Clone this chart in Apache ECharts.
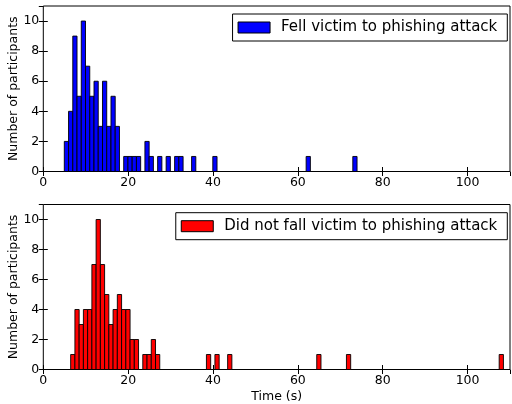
<!DOCTYPE html>
<html><head><meta charset="utf-8">
<script src="https://cdn.jsdelivr.net/npm/echarts@6/dist/echarts.min.js"></script>
<style>html,body{margin:0;padding:0;background:#fff}#c{width:512px;height:404px}</style>
</head><body><div id="c"></div>
<script>
const binWidth = 1.0;
const fellName = 'Fell victim to phishing attack';
const fellLeft = [4.95,5.95,6.95,7.95,8.95,9.95,10.95,11.95,12.95,13.95,14.95,15.95,16.95,18.95,19.95,20.95,21.95,23.95,24.95,26.95,28.95,30.95,31.95,34.95,39.95,61.95,72.95];
const fellCount = [2,4,9,5,10,7,5,6,3,6,3,5,3,1,1,1,1,2,1,1,1,1,1,1,1,1,1];
const notName = 'Did not fall victim to phishing attack';
const notLeft = [6.45,7.45,8.45,9.45,10.45,11.45,12.45,13.45,14.45,15.45,16.45,17.45,18.45,19.45,20.45,21.45,23.45,24.45,25.45,26.45,38.45,40.45,43.45,64.45,71.45,107.45];
const notCount = [1,4,3,4,4,7,10,7,5,3,4,5,4,4,2,2,1,1,2,1,1,1,1,1,1,1];
const xTicks = [0,20,40,60,80,100];
const yTicks = [0,2,4,6,8,10];

const FONT = 'DejaVu Sans';
const chart = echarts.init(document.getElementById('c'), null, {renderer:'canvas'});

function makeRender(color){
  return function(params, api){
    const x0 = api.value(0), h = api.value(1);
    const p0 = api.coord([x0, h]);
    const p1 = api.coord([x0 + binWidth, 0]);
    return {type:'rect', shape:{x:p0[0], y:p0[1], width:p1[0]-p0[0], height:p1[1]-p0[1]},
      style:{fill:color, stroke:'#000', lineWidth:0.9}};
  };
}
function xAx(grid, pos, labels, name){
  return {gridIndex:grid, type:'value', position:pos, min:0, max:110, interval:20,
    axisLine:{show:false}, splitLine:{show:false},
    axisTick:{show:true, inside:true, length:4.5, lineStyle:{color:'#000', width:1}},
    axisLabel:{show:labels, showMaxLabel:false, color:'#000', fontSize:12.5, fontFamily:FONT, margin:5,
      formatter:v => xTicks.includes(v) ? String(v) : ''},
    name:name||'', nameLocation:'middle', nameGap:21, nameMoveOverlap:false,
    nameTextStyle:{color:'#000', fontSize:12.5, fontFamily:FONT}};
}
function yAx(grid, pos, labels, name){
  return {gridIndex:grid, type:'value', position:pos, min:0, max:11, interval:2,
    axisLine:{show:false}, splitLine:{show:false},
    axisTick:{show:true, inside:true, length:4.5, lineStyle:{color:'#000', width:1}},
    axisLabel:{show:labels, showMaxLabel:false, color:'#000', fontSize:12.5, fontFamily:FONT, margin:4,
      formatter:v => yTicks.includes(v) ? String(v) : ''},
    name:name||'', nameLocation:'middle', nameGap:23, nameMoveOverlap:false,
    nameTextStyle:{color:'#000', fontSize:12.5, fontFamily:FONT}};
}
function legendFor(name, color, top){
  return {data:[name], right:4.7, top:top, orient:'horizontal', selectedMode:false,
    backgroundColor:'#fff', borderColor:'#000', borderWidth:1, borderRadius:0,
    padding:[6,10,6,5], itemWidth:32, itemHeight:11, icon:'rect',
    itemStyle:{color:color, borderColor:'#000', borderWidth:1},
    textStyle:{fontFamily:FONT, fontSize:15, color:'#000', padding:[0,0,0,6]}};
}

chart.setOption({
  animation:false,
  backgroundColor:'#fff',
  grid:[
    {left:43.3, right:2, top:6, height:165.5, show:true, borderColor:'#000', borderWidth:1, backgroundColor:'transparent', containLabel:false, outerBoundsMode:'none'},
    {left:43.3, right:2, top:204.5, height:165, show:true, borderColor:'#000', borderWidth:1, backgroundColor:'transparent', containLabel:false, outerBoundsMode:'none'}
  ],
  xAxis:[xAx(0,'bottom',true), xAx(0,'top',false), xAx(1,'bottom',true,'Time (s)'), xAx(1,'top',false)],
  yAxis:[yAx(0,'left',true,'Number of participants'), yAx(0,'right',false), yAx(1,'left',true,'Number of participants'), yAx(1,'right',false)],
  legend:[legendFor(fellName,'#0000ff',14), legendFor(notName,'#ff0000',212.7)],
  series:[
    {name:fellName, type:'custom', xAxisIndex:0, yAxisIndex:0, itemStyle:{color:'#0000ff'},
      data:fellLeft.map((x,i)=>[x, fellCount[i]]), encode:{x:0,y:1}, renderItem:makeRender('#0000ff')},
    {name:notName, type:'custom', xAxisIndex:2, yAxisIndex:2, itemStyle:{color:'#ff0000'},
      data:notLeft.map((x,i)=>[x, notCount[i]]), encode:{x:0,y:1}, renderItem:makeRender('#ff0000')}
  ]
});
</script></body></html>
